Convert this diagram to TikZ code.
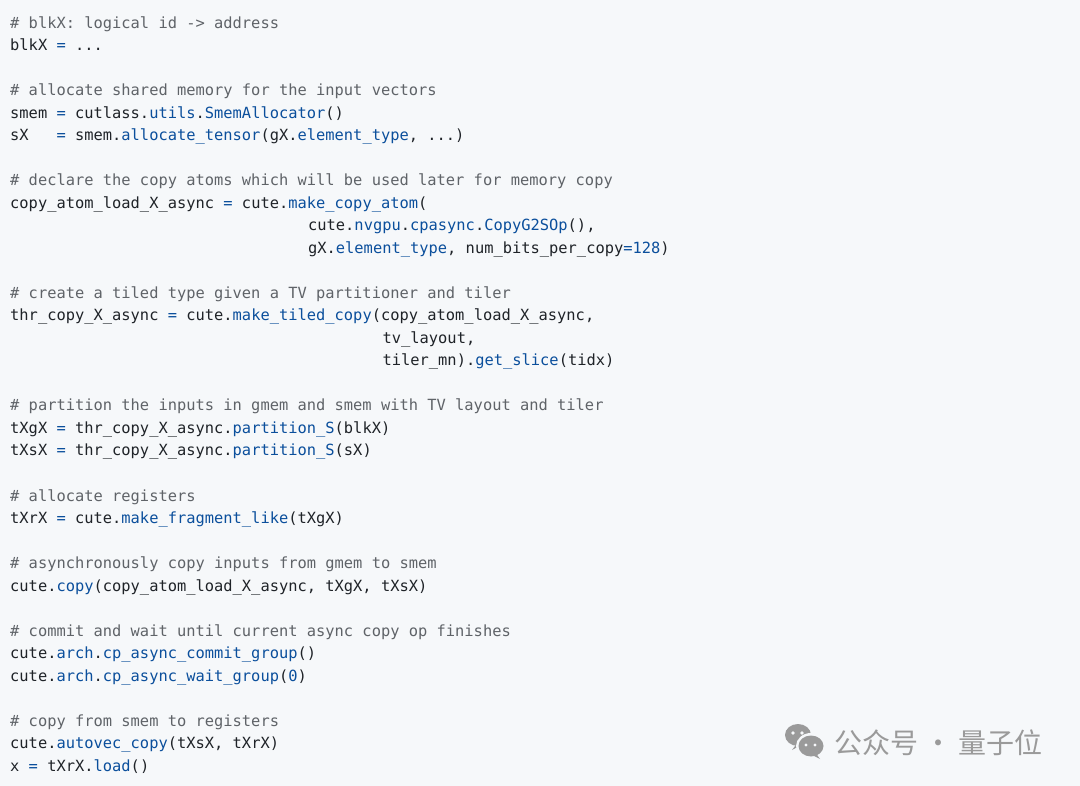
\documentclass[tikz,border=0pt]{standalone}
\usepackage{fontspec}
\setmonofont{DejaVu Sans Mono}
\newfontfamily\cjk{Noto Sans CJK SC}
\definecolor{bgc}{HTML}{F6F8FA}
\definecolor{txc}{HTML}{1F2328}
\definecolor{cmc}{HTML}{5F6368}
\definecolor{blc}{HTML}{0B4F9C}
\definecolor{wmc}{HTML}{9A9A9A}
\newcommand\B[1]{\textcolor{blc}{#1}}
\begin{document}
\begin{tikzpicture}[x=1pt,y=1pt,
  codeln/.style={anchor=base west,inner sep=0pt,text=txc,font=\ttfamily\fontsize{15.4}{18}\selectfont},
  commentln/.style={codeln,text=cmc}]
\fill[bgc] (0,0) rectangle (1080,-786);
\useasboundingbox (0,0) rectangle (1080,-786);
\def\L#1{-(23+(#1-1)*22.5+5.5)}
\node[commentln] (l1) at (10,{\L{1}}) {\# blkX: logical id -> address};
\node[codeln] (l2) at (10,{\L{2}}) {blkX \B{=} ...};
\node[commentln] (l4) at (10,{\L{4}}) {\# allocate shared memory for the input vectors};
\node[codeln] (l5) at (10,{\L{5}}) {smem \B{=} cutlass.\B{utils}.\B{SmemAllocator}()};
\node[codeln] (l6) at (10,{\L{6}}) {sX~~~\B{=} smem.\B{allocate\_tensor}(gX.\B{element\_type}, ...)};
\node[commentln] (l8) at (10,{\L{8}}) {\# declare the copy atoms which will be used later for memory copy};
\node[codeln] (l9) at (10,{\L{9}}) {copy\_atom\_load\_X\_async \B{=} cute.\B{make\_copy\_atom}(};
\node[codeln] (l10) at (10+32*9.31,{\L{10}}) {cute.\B{nvgpu}.\B{cpasync}.\B{CopyG2SOp}(),};
\node[codeln] (l11) at (10+32*9.31,{\L{11}}) {gX.\B{element\_type}, num\_bits\_per\_copy\B{=128})};
\node[commentln] (l13) at (10,{\L{13}}) {\# create a tiled type given a TV partitioner and tiler};
\node[codeln] (l14) at (10,{\L{14}}) {thr\_copy\_X\_async \B{=} cute.\B{make\_tiled\_copy}(copy\_atom\_load\_X\_async,};
\node[codeln] (l15) at (10+40*9.31,{\L{15}}) {tv\_layout,};
\node[codeln] (l16) at (10+40*9.31,{\L{16}}) {tiler\_mn).\B{get\_slice}(tidx)};
\node[commentln] (l18) at (10,{\L{18}}) {\# partition the inputs in gmem and smem with TV layout and tiler};
\node[codeln] (l19) at (10,{\L{19}}) {tXgX \B{=} thr\_copy\_X\_async.\B{partition\_S}(blkX)};
\node[codeln] (l20) at (10,{\L{20}}) {tXsX \B{=} thr\_copy\_X\_async.\B{partition\_S}(sX)};
\node[commentln] (l22) at (10,{\L{22}}) {\# allocate registers};
\node[codeln] (l23) at (10,{\L{23}}) {tXrX \B{=} cute.\B{make\_fragment\_like}(tXgX)};
\node[commentln] (l25) at (10,{\L{25}}) {\# asynchronously copy inputs from gmem to smem};
\node[codeln] (l26) at (10,{\L{26}}) {cute.\B{copy}(copy\_atom\_load\_X\_async, tXgX, tXsX)};
\node[commentln] (l28) at (10,{\L{28}}) {\# commit and wait until current async copy op finishes};
\node[codeln] (l29) at (10,{\L{29}}) {cute.\B{arch}.\B{cp\_async\_commit\_group}()};
\node[codeln] (l30) at (10,{\L{30}}) {cute.\B{arch}.\B{cp\_async\_wait\_group}(\B{0})};
\node[commentln] (l32) at (10,{\L{32}}) {\# copy from smem to registers};
\node[codeln] (l33) at (10,{\L{33}}) {cute.\B{autovec\_copy}(tXsX, tXrX)};
\node[codeln] (l34) at (10,{\L{34}}) {x \B{=} tXrX.\B{load}()};
% watermark
\fill[wmc] (798,-735) ellipse (13 and 11);
\fill[wmc] (798,-742) -- (792,-750) -- (803,-744) -- cycle;
\fill[bgc] (811,-746) ellipse (15 and 13);
\fill[wmc] (811,-746) ellipse (12.5 and 10.5);
\fill[wmc] (815,-752) -- (820,-759) -- (810,-754) -- cycle;
\foreach \p in {(793,-733),(802,-733)} \fill[bgc] \p circle (1.8);
\foreach \p in {(806,-745),(815,-745)} \fill[bgc] \p circle (1.7);
\node[anchor=west,inner sep=0pt,text=wmc,font=\cjk\fontsize{28}{30}\selectfont] (wm) at (834,-743) {公众号 · 量子位};
\end{tikzpicture}
\end{document}
